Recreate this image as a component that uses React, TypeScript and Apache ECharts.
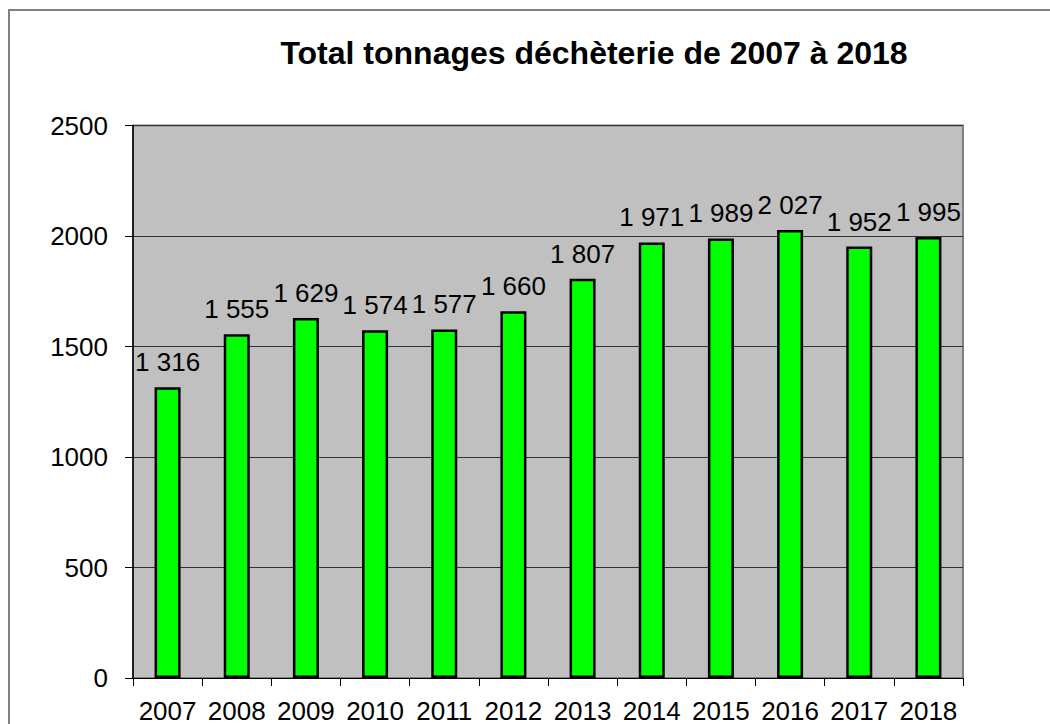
import React, { useEffect, useRef } from "react";
import * as echarts from "echarts";

const TITLE = "Total tonnages déchèterie de 2007 à 2018";
const YEARS = ["2007", "2008", "2009", "2010", "2011", "2012", "2013", "2014", "2015", "2016", "2017", "2018"];
const TONNAGES = [1316, 1555, 1629, 1574, 1577, 1660, 1807, 1971, 1989, 2027, 1952, 1995];
const Y_MIN = 0;
const Y_MAX = 2500;
const Y_STEP = 500;

const FONT = "'Liberation Sans', Arial, sans-serif";

function fmt(v: number): string {
  return String(v).replace(/\B(?=(\d{3})+(?!\d))/g, " ");
}

export default function App() {
  const ref = useRef<HTMLDivElement>(null);
  useEffect(() => {
    if (!ref.current) return;
    const chart = echarts.init(ref.current, undefined, { renderer: "svg" });
    chart.setOption({
      animation: false,
      backgroundColor: "#ffffff",
      textStyle: { fontFamily: FONT },
      title: {
        text: TITLE,
        left: 594,
        textAlign: "center",
        top: 37,
        padding: 0,
        textStyle: { fontFamily: FONT, fontWeight: "bold", fontSize: 32, color: "#000", lineHeight: 32 },
      },
      graphic: [
        {
          type: "rect",
          shape: { x: 9, y: 10, width: 1200, height: 900 },
          style: { fill: "none", stroke: "#808080", lineWidth: 2 },
          silent: true,
          z: 100,
        },
      ],
      grid: {
        left: 133,
        right: 87,
        top: 125.5,
        bottom: 42,
        show: true,
        backgroundColor: "#C0C0C0",
        borderColor: "#808080",
        borderWidth: 2,
        containLabel: false,
      },
      xAxis: {
        type: "category",
        data: YEARS,
        boundaryGap: true,
        axisLine: { show: true, lineStyle: { color: "#000", width: 1 } },
        axisTick: { show: true, alignWithLabel: false, length: 8, lineStyle: { color: "#000", width: 1 } },
        axisLabel: { margin: 20, fontSize: 26, color: "#000", fontFamily: FONT, interval: 0 },
        splitLine: { show: false },
      },
      yAxis: {
        type: "value",
        min: Y_MIN,
        max: Y_MAX,
        interval: Y_STEP,
        axisLine: { show: true, lineStyle: { color: "#000", width: 1.5 } },
        axisTick: { show: true, length: 8, lineStyle: { color: "#000", width: 1 } },
        axisLabel: {
          margin: 25,
          fontSize: 26,
          color: "#000",
          fontFamily: FONT,
          formatter: (v: number) => String(v),
        },
        splitLine: { show: true, lineStyle: { color: "#333", width: 1 } },
      },
      series: [
        {
          type: "bar",
          data: TONNAGES,
          barWidth: 26,
          itemStyle: { color: "#00FF00", borderColor: "#000", borderWidth: 2.5 },
          label: {
            show: true,
            position: "top",
            distance: 12,
            fontSize: 26,
            color: "#000",
            fontFamily: FONT,
            formatter: (p: any) => fmt(p.value),
          },
        },
      ],
    });
    return () => chart.dispose();
  }, []);
  return <div ref={ref} style={{ position: "fixed", left: 0, top: 0, width: 1050, height: 724 }} />;
}
